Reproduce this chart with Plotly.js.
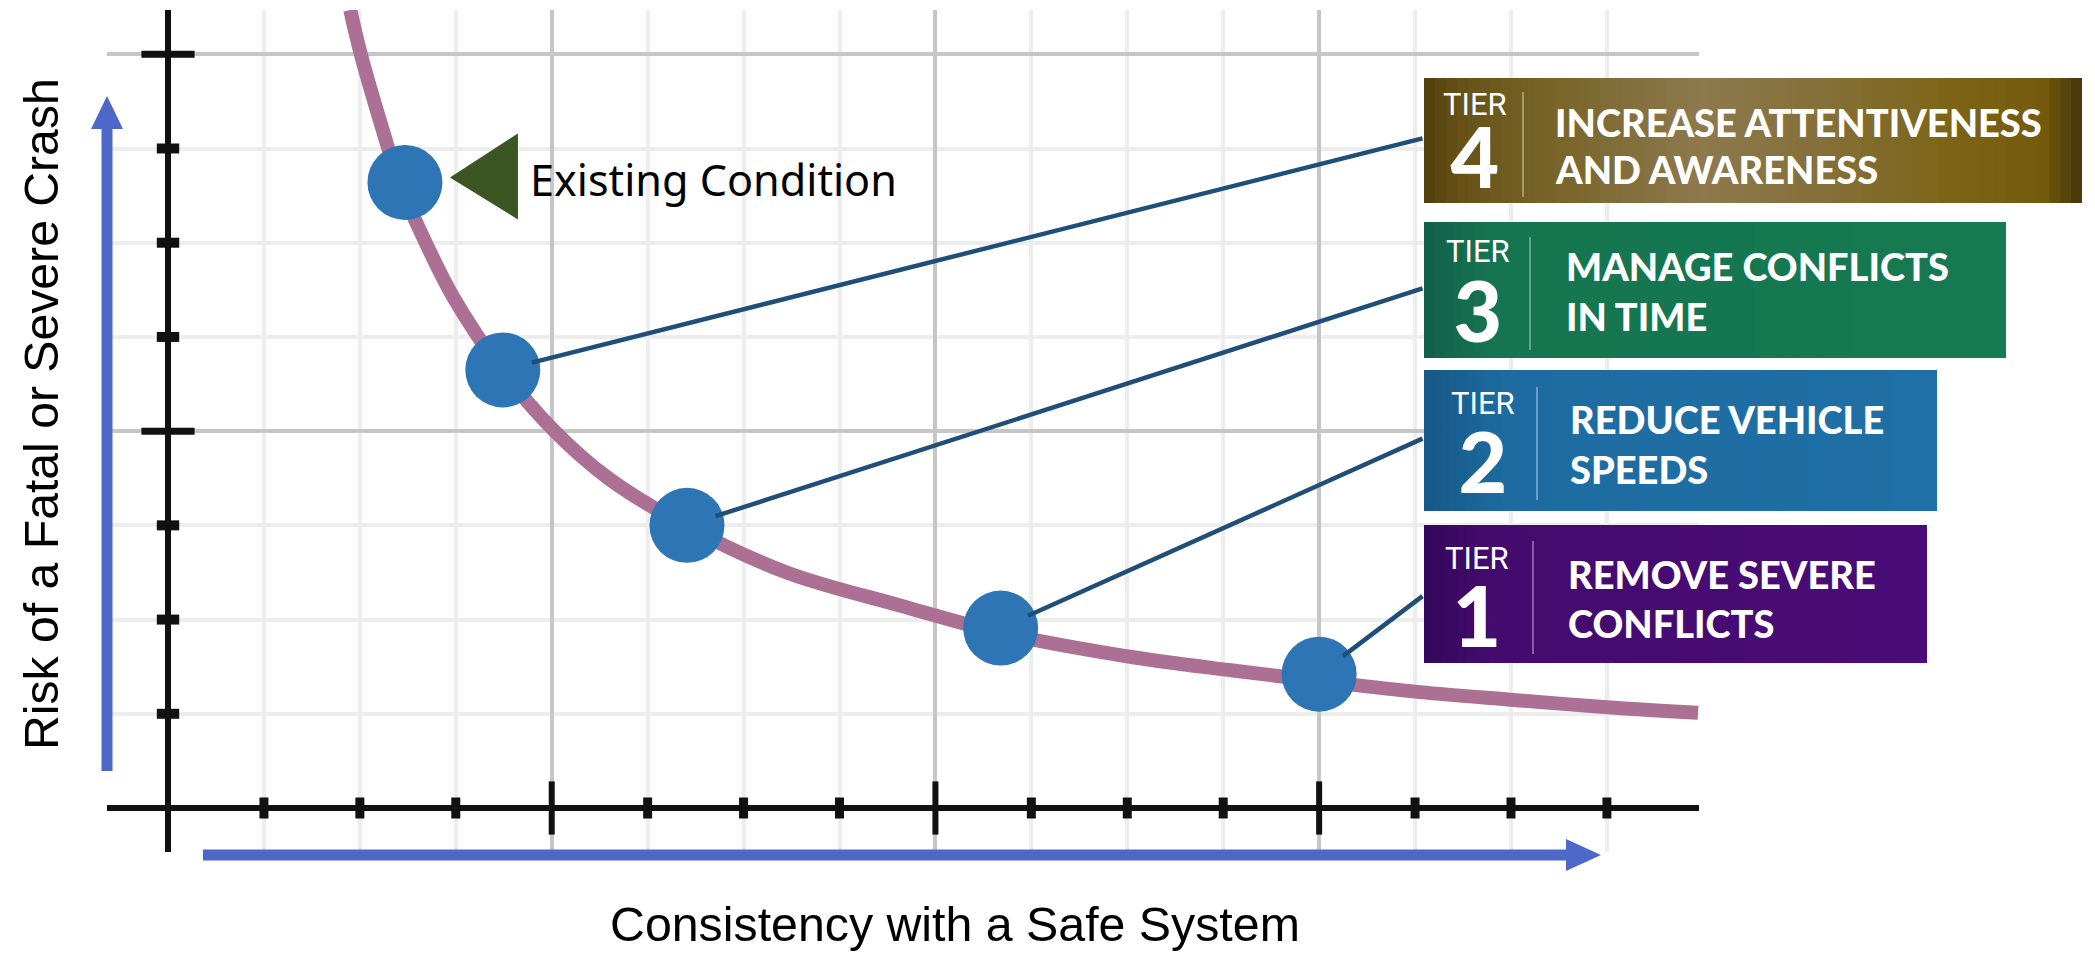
<!DOCTYPE html>
<html>
<head>
<meta charset="utf-8">
<script src="https://cdn.plot.ly/plotly-3.0.1.min.js"></script>
<style>
html,body{margin:0;padding:0;background:#ffffff;}
#chart{width:2095px;height:956px;}
</style>
</head>
<body>
<div id="chart"></div>
<script>
// ---------------- data ----------------
const curveX = [1.90, 2.01, 2.30, 2.41, 2.71, 2.97, 3.48, 4.03, 4.59, 5.41, 6.45, 7.63, 8.68, 10.06, 11.10, 12.00, 13.05, 13.99, 15.00, 15.95];
const curveY = [8.47, 8.00, 6.99, 6.64, 5.95, 5.43, 4.65, 4.00, 3.50, 2.99, 2.50, 2.15, 1.86, 1.60, 1.46, 1.35, 1.23, 1.15, 1.07, 1.01];

const existingX = [2.47];
const existingY = [6.64];
const existingLabel = 'Existing Condition';

const stepX = [3.49, 5.41, 8.68, 12.00];
const stepY = [4.65, 3.00, 1.91, 1.42];

const tierWord = 'TIER';
const tierNumbers = ['4', '3', '2', '1'];
const tierLine1 = ['INCREASE ATTENTIVENESS', 'MANAGE CONFLICTS', 'REDUCE VEHICLE', 'REMOVE SEVERE'];
const tierLine2 = ['AND AWARENESS', 'IN TIME', 'SPEEDS', 'CONFLICTS'];

const xMinorTicks = [1, 2, 3, 5, 6, 7, 9, 10, 11, 13, 14, 15];
const xMajorTicks = [4, 8, 12];
const yMinorTicks = [1, 2, 3, 5, 6, 7];
const yMajorTicks = [4, 8];

const xTitle = 'Consistency with a Safe System';
const yTitle = 'Risk of a Fatal or Severe Crash';

// ---------------- layout geometry (pixels) ----------------
const W = 2095, H = 956;
const L = 107, R = 1699, T = 10, B = 852;
const XR = [-0.636, 15.96], YR = [-0.467, 8.47];
const fx = px => (px - L) / (R - L);
const fy = py => (B - py) / (B - T);
const dx = px => XR[0] + (px - L) / (R - L) * (XR[1] - XR[0]);
const dy = py => YR[0] + (B - py) / (B - T) * (YR[1] - YR[0]);

const boxes = [
  {x0:1424, x1:2082, y0:78,  y1:203, anchorY:138,
   stops:[[0,'#4f3f0c'],[0.05,'#665016'],[0.2,'#79652a'],[0.42,'#8d794c'],[0.6,'#85703a'],[0.8,'#7d6416'],[0.94,'#735a0c'],[1,'#45360a']],
   cx:1475, tierBase:115, numBase:188, divX:1523, divY0:92, divY1:197, textX:1553, l1Y:121.5, l2Y:168.5, target:520},
  {x0:1424, x1:2006, y0:222, y1:358, anchorY:288,
   stops:[[0,'#12604a'],[0.12,'#157550'],[1,'#167a52']],
   cx:1478, tierBase:262, numBase:342, divX:1530, divY0:237, divY1:350, textX:1564, l1Y:266.5, l2Y:316, target:428},
  {x0:1424, x1:1937, y0:370, y1:511, anchorY:438,
   stops:[[0,'#175886'],[0.16,'#1d6ba1'],[1,'#1f70a6']],
   cx:1483, tierBase:414, numBase:493, divX:1537, divY0:387, divY1:500, textX:1568, l1Y:418.5, l2Y:468.5, target:359},
  {x0:1424, x1:1927, y0:525, y1:663, anchorY:595,
   stops:[[0,'#33085a'],[0.13,'#440b6e'],[1,'#4a0c77']],
   cx:1477, tierBase:569, numBase:647, divX:1533, divY0:541, divY1:654, textX:1566, l1Y:573.5, l2Y:623.5, target:346}
];

// ---------------- font helpers ----------------
const ctx = document.createElement('canvas').getContext('2d');
function textW(t, font) { ctx.font = font; return ctx.measureText(t).width; }
function hasFont(f) {
  const s = 'mmmmmmmmmmlli WWW abcdefg 123';
  return Math.abs(textW(s, '100px "' + f + '", monospace') - textW(s, '100px monospace')) > 0.5;
}
function fit(t, fam, weight, target) { return 100 * target / textW(t, weight + ' 100px ' + fam); }
const clamp = (v, a, b) => Math.max(a, Math.min(b, v));

const titleFamName = hasFont('Liberation Sans Narrow') ? 'Liberation Sans Narrow' : 'Liberation Sans';
const titleFam = '"' + titleFamName + '", "Liberation Sans", Arial, sans-serif';
const xTitleSize = clamp(fit(xTitle, '"' + titleFamName + '"', 400, 690), 40, 64);
const yTitleSize = clamp(fit(yTitle, '"' + titleFamName + '"', 400, 672), 40, 64);

const tierFamName = hasFont('Lato') ? 'Lato' : 'Roboto';
const tierFam = '"' + tierFamName + '", Roboto, sans-serif';
let tierTextSize = 38;
boxes.forEach((b, i) => {
  tierTextSize = Math.min(tierTextSize, fit(tierLine1[i], '"' + tierFamName + '"', 900, b.target));
});
tierTextSize = clamp(tierTextSize, 30, 38);
const tierWordSize = 31;
const numSize = 84;
const existFam = '"Noto Sans", "Open Sans", sans-serif';
const existSize = clamp(fit(existingLabel, '"Noto Sans"', 400, 367), 34, 48);

// ---------------- colour helpers ----------------
function hex2rgb(h) { return [parseInt(h.slice(1,3),16), parseInt(h.slice(3,5),16), parseInt(h.slice(5,7),16)]; }
function colorAt(stops, t) {
  for (let i = 0; i < stops.length - 1; i++) {
    const [t0, c0] = stops[i], [t1, c1] = stops[i + 1];
    if (t >= t0 && t <= t1) {
      const u = (t - t0) / (t1 - t0 || 1), a = hex2rgb(c0), b = hex2rgb(c1);
      return 'rgb(' + a.map((v, k) => Math.round(v + (b[k] - v) * u)).join(',') + ')';
    }
  }
  return stops[stops.length - 1][1];
}

// ---------------- traces ----------------
const traces = [
  {x: curveX, y: curveY, type: 'scatter', mode: 'lines',
   line: {color: '#ab7094', width: 14, shape: 'spline', smoothing: 1}, hoverinfo: 'skip'},
  {x: xMinorTicks, y: xMinorTicks.map(() => 0), type: 'scatter', mode: 'markers',
   marker: {symbol: 'line-ns', size: 15, line: {width: 9, color: '#111111'}}, hoverinfo: 'skip'},
  {x: xMajorTicks, y: xMajorTicks.map(() => 0), type: 'scatter', mode: 'markers',
   marker: {symbol: 'line-ns', size: 38, line: {width: 6, color: '#111111'}}, hoverinfo: 'skip'},
  {x: yMinorTicks.map(() => 0), y: yMinorTicks, type: 'scatter', mode: 'markers',
   marker: {symbol: 'line-ew', size: 16, line: {width: 10, color: '#111111'}}, hoverinfo: 'skip'},
  {x: yMajorTicks.map(() => 0), y: yMajorTicks, type: 'scatter', mode: 'markers',
   marker: {symbol: 'line-ew', size: 38, line: {width: 7, color: '#111111'}}, hoverinfo: 'skip'},
  {x: existingX, y: existingY, type: 'scatter', mode: 'markers', name: existingLabel,
   marker: {size: 75, color: '#2e75b6', line: {width: 0}}},
  {x: stepX, y: stepY, type: 'scatter', mode: 'markers', name: 'Tiers',
   marker: {size: 75, color: '#2e75b6', line: {width: 0}}}
];

// ---------------- shapes ----------------
const shapes = [];
// blue direction arrows
shapes.push({type: 'line', xref: 'paper', yref: 'paper', x0: fx(203), x1: fx(1572), y0: fy(855), y1: fy(855),
             line: {color: '#4e68c8', width: 11}});
shapes.push({type: 'path', xref: 'paper', yref: 'paper',
             path: 'M' + fx(1566) + ',' + fy(839) + ' L' + fx(1601) + ',' + fy(855) + ' L' + fx(1566) + ',' + fy(871) + ' Z',
             fillcolor: '#4e68c8', line: {width: 0}});
shapes.push({type: 'line', xref: 'paper', yref: 'paper', x0: fx(107), x1: fx(107), y0: fy(771), y1: fy(126),
             line: {color: '#4e68c8', width: 11}});
shapes.push({type: 'path', xref: 'paper', yref: 'paper',
             path: 'M' + fx(91) + ',' + fy(129) + ' L' + fx(107) + ',' + fy(96) + ' L' + fx(123) + ',' + fy(129) + ' Z',
             fillcolor: '#4e68c8', line: {width: 0}});
// pointer triangle next to the existing condition dot
shapes.push({type: 'path', xref: 'x', yref: 'y', xsizemode: 'pixel', ysizemode: 'pixel',
             xanchor: existingX[0], yanchor: existingY[0],
             path: 'M45,5 L113,49 L113,-37 Z', fillcolor: '#3b5523', line: {width: 0}});
// tier boxes with gradient strips
const N = 60;
boxes.forEach(b => {
  const w = (b.x1 - b.x0) / N;
  for (let i = 0; i < N; i++) {
    shapes.push({type: 'rect', xref: 'paper', yref: 'paper', layer: 'above',
                 x0: fx(b.x0 + i * w), x1: fx(Math.min(b.x1, b.x0 + (i + 1) * w + 0.8)),
                 y0: fy(b.y1), y1: fy(b.y0),
                 fillcolor: colorAt(b.stops, (i + 0.5) / N), line: {width: 0}});
  }
  shapes.push({type: 'line', xref: 'paper', yref: 'paper', x0: fx(b.divX), x1: fx(b.divX),
               y0: fy(b.divY1), y1: fy(b.divY0), line: {color: 'rgba(255,255,255,0.35)', width: 2}});
});

// ---------------- annotations ----------------
const annotations = [];
// connectors
boxes.forEach((b, i) => {
  annotations.push({x: stepX[i], y: stepY[i], xref: 'x', yref: 'y', axref: 'x', ayref: 'y',
                    ax: dx(b.x0), ay: dy(b.anchorY), text: '', showarrow: true, arrowhead: 0,
                    arrowwidth: 4.5, arrowcolor: '#1f4e79', standoff: 30, startstandoff: 0});
});
// tier texts
boxes.forEach((b, i) => {
  const baseSize = (b.numBase - b.tierBase) / 1.3;
  const top = b.tierBase - 0.928 * tierWordSize;
  const bottom = b.numBase + 0.213 * numSize;
  annotations.push({xref: 'paper', yref: 'paper', x: fx(b.cx), y: fy((top + bottom) / 2),
                    xanchor: 'center', yanchor: 'middle', align: 'center', showarrow: false,
                    text: '<span style="font-size:' + tierWordSize + 'px;font-family:Roboto,sans-serif;font-weight:400">' + tierWord +
                          '</span><br><span style="font-size:' + numSize + 'px;font-family:' + tierFamName + ',Roboto,sans-serif;font-weight:900">' +
                          tierNumbers[i] + '</span>',
                    font: {color: '#ffffff', size: baseSize, family: tierFam}});
  annotations.push({xref: 'paper', yref: 'paper', x: fx(b.textX), y: fy(b.l1Y), xanchor: 'left', yanchor: 'middle',
                    text: tierLine1[i], showarrow: false,
                    font: {color: '#ffffff', size: tierTextSize, family: tierFam, weight: 900}});
  annotations.push({xref: 'paper', yref: 'paper', x: fx(b.textX), y: fy(b.l2Y), xanchor: 'left', yanchor: 'middle',
                    text: tierLine2[i], showarrow: false,
                    font: {color: '#ffffff', size: tierTextSize, family: tierFam, weight: 900}});
});
// existing condition label
annotations.push({x: existingX[0], y: existingY[0], xref: 'x', yref: 'y', xanchor: 'left', yanchor: 'middle',
                  xshift: 123, yshift: 3, text: existingLabel, showarrow: false,
                  font: {family: existFam, size: existSize, color: '#000000'}});
// axis titles
annotations.push({xref: 'paper', yref: 'paper', x: fx(955), y: fy(924), xanchor: 'center', yanchor: 'middle',
                  text: xTitle, showarrow: false, font: {family: titleFam, size: xTitleSize, color: '#000000'}});
annotations.push({xref: 'paper', yref: 'paper', x: fx(41), y: fy(414), xanchor: 'center', yanchor: 'middle',
                  text: yTitle, textangle: -90, showarrow: false, font: {family: titleFam, size: yTitleSize, color: '#000000'}});

// ---------------- layout ----------------
const axisBase = {
  showticklabels: false, ticks: '', showline: false,
  showgrid: true, tick0: 0, dtick: 4, gridcolor: '#c6c6c6', gridwidth: 4,
  minor: {tick0: 0, dtick: 1, showgrid: true, gridcolor: '#ededed', gridwidth: 4, ticks: ''},
  zeroline: true, zerolinecolor: '#111111', zerolinewidth: 6, fixedrange: true
};
const layout = {
  width: W, height: H,
  margin: {l: L, r: W - R, t: T, b: H - B, pad: 0},
  paper_bgcolor: '#ffffff', plot_bgcolor: '#ffffff',
  showlegend: false,
  xaxis: Object.assign({}, axisBase, {range: XR}),
  yaxis: Object.assign({}, axisBase, {range: YR}),
  shapes: shapes,
  annotations: annotations
};

Plotly.newPlot('chart', traces, layout, {displayModeBar: false, responsive: false});
</script>
</body>
</html>
